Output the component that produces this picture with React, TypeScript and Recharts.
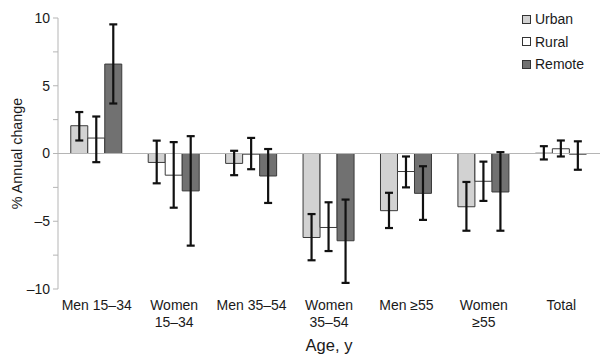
import {
  Bar,
  BarChart,
  ErrorBar,
  Label,
  ReferenceLine,
  XAxis,
  YAxis,
} from "recharts";

const categories = [
  "Men 15–34",
  "Women 15–34",
  "Men 35–54",
  "Women 35–54",
  "Men ≥55",
  "Women ≥55",
  "Total",
];
// how each category label wraps under the axis
const categoryLines = [
  ["Men 15–34"],
  ["Women", "15–34"],
  ["Men 35–54"],
  ["Women", "35–54"],
  ["Men ≥55"],
  ["Women", "≥55"],
  ["Total"],
];

const urban = [2.05, -0.66, -0.73, -6.2, -4.22, -3.93, 0.02];
const urbanLow = [0.96, -2.2, -1.6, -7.88, -5.5, -5.7, -0.44];
const urbanHigh = [3.06, 0.95, 0.2, -4.47, -2.9, -2.1, 0.54];

const rural = [1.14, -1.6, -0.05, -5.46, -1.33, -2.05, 0.35];
const ruralLow = [-0.64, -4.0, -1.16, -7.2, -2.5, -3.5, -0.22];
const ruralHigh = [2.73, 0.84, 1.15, -3.6, -0.22, -0.6, 0.96];

const remote = [6.6, -2.76, -1.66, -6.44, -2.94, -2.84, -0.05];
const remoteLow = [3.69, -6.8, -3.65, -9.55, -4.9, -5.7, -1.2];
const remoteHigh = [9.53, 1.28, 0.33, -3.4, -0.94, 0.1, 0.9];

const yTicks = [-10, -7.5, -5, -2.5, 0, 2.5, 5, 7.5, 10];

const FONT = '"Liberation Sans", Arial, sans-serif';
const TEXT = "#1a1a1a";

const series = [
  { key: "urban", name: "Urban", fill: "#d2d2d2" },
  { key: "rural", name: "Rural", fill: "#ffffff" },
  { key: "remote", name: "Remote", fill: "#717171" },
];

const data = categories.map((c, i) => ({
  category: c,
  urban: urban[i],
  urbanErr: [urban[i] - urbanLow[i], urbanHigh[i] - urban[i]],
  rural: rural[i],
  ruralErr: [rural[i] - ruralLow[i], ruralHigh[i] - rural[i]],
  remote: remote[i],
  remoteErr: [remote[i] - remoteLow[i], remoteHigh[i] - remote[i]],
}));

function CategoryTick({ x, y, payload }: any) {
  const lines = categoryLines[categories.indexOf(payload.value)] ?? [payload.value];
  return (
    <text x={x} y={y} textAnchor="middle" fontSize={14} fill={TEXT} fontFamily={FONT}>
      {lines.map((l, i) => (
        <tspan key={i} x={x} dy={i === 0 ? 12.5 : 17.5}>
          {l}
        </tspan>
      ))}
    </text>
  );
}

function fmtY(v: number) {
  if (v % 5 !== 0) return "";
  return v < 0 ? `–${Math.abs(v)}` : `${v}`;
}

// legend sits over the plot, so it doesn't steal width from the bars
function LegendBox() {
  return (
    <div
      style={{
        position: "absolute",
        left: 522,
        top: 8,
        fontFamily: FONT,
        fontSize: 14,
        color: TEXT,
      }}
    >
      {series.map((s) => (
        <div key={s.key} style={{ display: "flex", alignItems: "center", height: 22.6 }}>
          <span
            style={{
              width: 7,
              height: 7,
              background: s.fill,
              border: "1px solid #333",
              marginRight: 4,
            }}
          />
          {s.name}
        </div>
      ))}
    </div>
  );
}

export default function App() {
  return (
    <div style={{ position: "absolute", left: 0, top: 0, width: 600, height: 362, background: "#fff" }}>
      <BarChart
        width={600}
        height={362}
        data={data}
        margin={{ top: 18, right: 0, bottom: 23, left: 0 }}
        barCategoryGap="16.5%"
        barGap={0}
      >
        <XAxis
          dataKey="category"
          axisLine={false}
          tickLine={false}
          height={50}
          interval={0}
          tick={<CategoryTick />}
        >
          <Label
            value="Age, y"
            position="bottom"
            offset={0}
            style={{ fontFamily: FONT, fontSize: 16.5, fill: TEXT }}
          />
        </XAxis>
        <YAxis
          width={58}
          domain={[-10, 10]}
          ticks={yTicks}
          interval={0}
          tickFormatter={fmtY}
          stroke="#b5b5b5"
          tickSize={5}
          tickMargin={3}
          tick={{ fill: TEXT, fontSize: 14, fontFamily: FONT }}
        >
          <Label
            value="% Annual change"
            angle={-90}
            position="insideLeft"
            offset={17}
            style={{ textAnchor: "middle", fontFamily: FONT, fontSize: 14.3, fill: TEXT }}
          />
        </YAxis>
        <ReferenceLine y={0} stroke="#b5b5b5" />
        {series.map((s) => (
          <Bar
            key={s.key}
            dataKey={s.key}
            name={s.name}
            fill={s.fill}
            stroke="#3a3a3a"
            strokeWidth={1}
            isAnimationActive={false}
          >
            <ErrorBar
              dataKey={`${s.key}Err`}
              width={4}
              stroke="#111"
              strokeWidth={2.2}
              direction="y"
            />
          </Bar>
        ))}
      </BarChart>
      <LegendBox />
    </div>
  );
}
